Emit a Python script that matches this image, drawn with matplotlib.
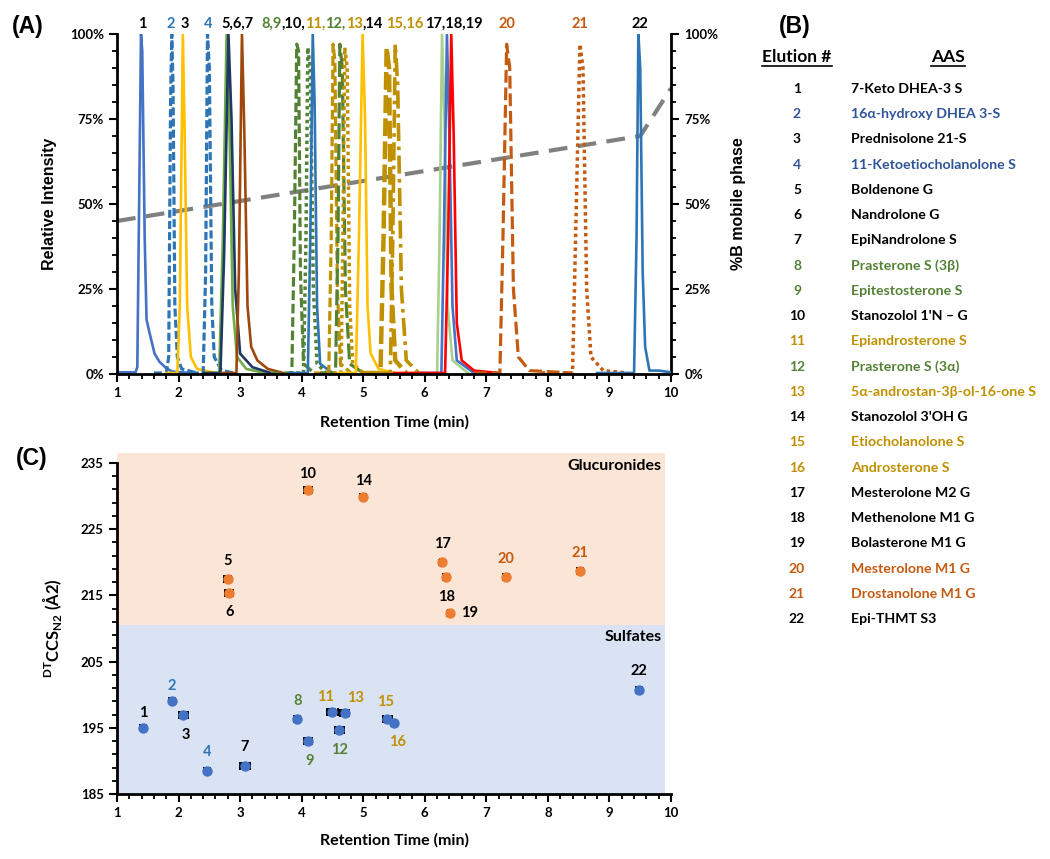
import numpy as np
import matplotlib.pyplot as plt
from matplotlib.ticker import MultipleLocator, FuncFormatter
from matplotlib.offsetbox import TextArea, HPacker, AnnotationBbox
from matplotlib.patches import Rectangle
from matplotlib.lines import Line2D

plt.rcParams['font.family'] = ['Lato', 'DejaVu Sans']
plt.rcParams['font.weight'] = 'bold'
plt.rcParams['mathtext.fontset'] = 'custom'
plt.rcParams['mathtext.rm'] = 'Lato:bold'
plt.rcParams['mathtext.bf'] = 'Lato:bold'

W, H = 1050, 859

# colours
K = '#000000'
BLUE = '#2E75B6'
RBLUE = '#4472C4'
NAVY = '#1F3864'
GOLD = '#BF9000'
YEL = '#FFC000'
GREEN = '#548235'
LGREEN = '#70AD47'
BROWN = '#9E480E'
ORANGE = '#C55A11'
RED = '#FF0000'
TBLUE = '#2F5597'

# ---- (A) chromatograms: time (min) / relative intensity (%) ----
peak_t = [
    [1.0, 1.30, 1.33, 1.39, 1.41, 1.45, 1.48, 1.53, 1.61, 1.69, 1.80, 1.90, 2.2],
    [1.6, 1.80, 1.84, 1.87, 1.89, 1.91, 1.94, 1.98, 2.05, 2.3],
    [1.8, 1.98, 2.02, 2.07, 2.10, 2.14, 2.20, 2.3, 2.6],
    [2.2, 2.40, 2.44, 2.47, 2.50, 2.54, 2.58, 2.7, 2.9],
    [2.4, 2.66, 2.72, 2.78, 2.83, 2.88, 2.95, 3.1, 3.4],
    [2.4, 2.68, 2.74, 2.81, 2.86, 2.92, 3.0, 3.2, 3.5],
    [2.7, 2.94, 2.98, 3.03, 3.07, 3.12, 3.18, 3.28, 3.45, 3.7],
    [3.5, 3.84, 3.88, 3.92, 3.95, 3.98, 4.03, 4.2],
    [3.8, 4.03, 4.07, 4.10, 4.14, 4.19, 4.25, 4.4],
    [3.8, 4.10, 4.14, 4.18, 4.21, 4.25, 4.30, 4.5],
    [4.2, 4.44, 4.48, 4.51, 4.54, 4.58, 4.63, 4.8],
    [4.3, 4.55, 4.59, 4.62, 4.66, 4.71, 4.78, 5.0],
    [4.4, 4.64, 4.67, 4.70, 4.74, 4.78, 4.83, 5.0],
    [4.6, 4.88, 4.93, 4.99, 5.03, 5.07, 5.12, 5.25, 5.5],
    [5.0, 5.28, 5.33, 5.38, 5.42, 5.46, 5.52, 5.7],
    [5.2, 5.44, 5.48, 5.52, 5.56, 5.62, 5.70, 5.9],
    [5.8, 6.20, 6.24, 6.28, 6.32, 6.37, 6.45, 6.7],
    [5.9, 6.27, 6.31, 6.36, 6.40, 6.45, 6.52, 6.8],
    [5.5, 6.33, 6.38, 6.43, 6.47, 6.52, 6.60, 6.8, 7.2],
    [6.8, 7.22, 7.27, 7.33, 7.38, 7.44, 7.52, 7.7, 8.4],
    [7.9, 8.40, 8.45, 8.52, 8.57, 8.63, 8.70, 8.9, 9.3],
    [8.8, 9.40, 9.44, 9.47, 9.50, 9.54, 9.58, 9.65, 9.8, 10.0],
]
peak_i = [
    [0.5, 0.5, 2, 100, 95, 40, 16, 12, 6, 3.6, 1.7, 0.7, 0.3],
    [0.3, 0.3, 5, 80, 100, 85, 20, 5, 1.5, 0.3],
    [0.3, 0.3, 20, 100, 70, 20, 5, 1.5, 0.3],
    [0.3, 0.3, 30, 100, 90, 20, 5, 1, 0.3],
    [0.3, 0.3, 40, 100, 70, 20, 5, 1.5, 0.3],
    [0.3, 0.3, 35, 100, 75, 25, 6, 2, 0.3],
    [0.3, 0.3, 30, 100, 70, 20, 8, 4, 1.5, 0.3],
    [0.3, 0.3, 40, 97, 95, 30, 3, 0.3],
    [0.3, 0.3, 40, 96, 90, 25, 3, 0.3],
    [0.3, 0.3, 40, 100, 80, 20, 3, 0.3],
    [0.3, 0.3, 40, 97, 92, 25, 3, 0.3],
    [0.3, 0.3, 40, 97, 90, 25, 3, 0.3],
    [0.3, 0.3, 40, 96, 90, 20, 3, 0.3],
    [0.3, 0.3, 40, 100, 75, 20, 6, 1.5, 0.3],
    [0.3, 0.3, 40, 96, 90, 25, 4, 0.3],
    [0.3, 0.3, 40, 97, 85, 25, 4, 0.3],
    [0.3, 0.3, 40, 100, 75, 20, 4, 0.3],
    [0.3, 0.3, 40, 100, 70, 20, 4, 0.3],
    [0.3, 0.3, 40, 100, 70, 15, 4, 1, 0.3],
    [0.3, 0.3, 40, 97, 90, 25, 5, 1, 0.3],
    [0.3, 0.3, 40, 97, 90, 25, 5, 1, 0.3],
    [0.3, 0.3, 40, 100, 90, 30, 8, 1, 1, 0.5],
]
peak_color = [RBLUE, BLUE, YEL, BLUE, LGREEN, NAVY, BROWN, GREEN, GREEN, BLUE, GOLD,
              GREEN, GOLD, YEL, GOLD, GOLD, '#A9D18E', RBLUE, RED, ORANGE, ORANGE, BLUE]
peak_ls = ['-', (0, (2.5, 1)), '-', (0, (2.5, 1)), '-', '-', '-', (0, (3, 1.2)), (0, (1, 1)), '-',
           (0, (3, 1.2)), (0, (5, 1.5)), (0, (1, 1)), '-', (0, (4, 1.2)), (0, (5, 1.5, 1, 1.5)),
           '-', '-', '-', (0, (4, 1.5)), (0, (1, 1)), '-']
peak_lw = [1.9, 2.3, 1.9, 2.3, 1.9, 1.9, 1.9, 2.3, 2.5, 1.9, 2.3, 2.3, 2.5, 1.9, 3.2, 2.6,
           1.9, 1.9, 1.9, 2.3, 2.5, 1.9]

gradient_t = [1.0, 9.5, 10.0]
gradient_b = [45, 70, 84]

# peak labels above the chromatogram: (text pieces, colours, centre time)
top_labels = [
    (['1'], [K], 1.41),
    (['2'], [BLUE], 1.88),
    (['3'], [K], 2.10),
    (['4'], [BLUE], 2.48),
    (['5,6,7'], [K], 2.95),
    (['8,9', ',10,', '11,', '12,', '13', ',14'], [GREEN, K, GOLD, GREEN, GOLD, K], 4.33),
    (['15,16'], [GOLD], 5.68),
    (['17,18,19'], [K], 6.47),
    (['20'], [ORANGE], 7.33),
    (['21'], [ORANGE], 8.52),
    (['22'], [K], 9.49),
]

# ---- (B) table ----
aas_names = ['7-Keto DHEA-3 S', '16α-hydroxy DHEA 3-S', 'Prednisolone 21-S',
             '11-Ketoetiocholanolone S', 'Boldenone G', 'Nandrolone G', 'EpiNandrolone S',
             'Prasterone S (3β)', 'Epitestosterone S', "Stanozolol 1'N – G",
             'Epiandrosterone S', 'Prasterone S (3α)', '5α-androstan-3β-ol-16-one S',
             "Stanozolol 3'OH G", 'Etiocholanolone S', 'Androsterone S', 'Mesterolone M2 G',
             'Methenolone M1 G', 'Bolasterone M1 G', 'Mesterolone M1 G', 'Drostanolone M1 G',
             'Epi-THMT S3']
aas_colors = [K, TBLUE, K, TBLUE, K, K, K, GREEN, GREEN, K, GOLD, GREEN, GOLD, K, GOLD, GOLD,
              K, K, K, ORANGE, ORANGE, K]

# ---- (C) CCS vs retention time ----
ccs_rt = [1.43, 1.89, 2.08, 2.47, 2.80, 2.82, 3.08, 3.93, 4.10, 4.10, 4.50, 4.61, 4.70, 5.00,
          5.39, 5.50, 6.28, 6.35, 6.41, 7.32, 8.52, 9.48]
ccs_val = [195.0, 199.1, 197.0, 188.5, 217.5, 215.4, 189.3, 196.4, 193.0, 230.9, 197.4, 194.7,
           197.3, 229.9, 196.3, 195.7, 220.0, 217.8, 212.3, 217.8, 218.7, 200.7]
rt_err = [0.03, 0.03, 0.07, 0.03, 0.06, 0.06, 0.08, 0.05, 0.07, 0.06, 0.09, 0.07, 0.07, 0.03,
          0.07, 0.03, 0.03, 0.03, 0.03, 0.03, 0.03, 0.03]
ccs_err = [0.4] * 22
ccs_class = ['S', 'S', 'S', 'S', 'G', 'G', 'S', 'S', 'S', 'G', 'S', 'S', 'S', 'G', 'S', 'S',
             'G', 'G', 'G', 'G', 'G', 'S']
ccs_label_color = [K, BLUE, K, BLUE, K, K, K, GREEN, GREEN, K, GOLD, GREEN, GOLD, K, GOLD, GOLD,
                   K, K, K, ORANGE, ORANGE, K]
# label offsets in pixels
ccs_label_off = [(0, 15), (0, 15), (2, -20), (0, 19), (0, 18), (1, -19), (0, 19), (0, 18),
                 (2, -20), (0, 16), (-7, 15), (0, -20), (11, 15), (0, 16), (-2, 17), (4, -19),
                 (0, 18), (0, -20), (20, 0), (0, 18), (0, 18), (0, 19)]

fig = plt.figure(figsize=(W / 100, H / 100), dpi=100)


def px(x, y):
    return x / W, 1 - y / H


def style_axis(ax):
    ax.tick_params(which='major', direction='out', length=6, width=1.5, labelsize=9.5)
    ax.tick_params(which='minor', direction='out', length=3.5, width=1.3)
    for s in ax.spines.values():
        s.set_linewidth(2)


# ================= (A) =================
axA = fig.add_axes([117 / W, 1 - 374 / H, 554 / W, 340 / H])
axB = axA.twinx()
axB.set_zorder(0)
axA.set_zorder(1)
axA.patch.set_visible(False)
axB.plot(gradient_t, gradient_b, color='#808080', lw=3, ls=(0, (4.5, 2.5)))
axB.set_ylim(0, 100)

for t, i, c, ls, lw in zip(peak_t, peak_i, peak_color, peak_ls, peak_lw):
    axA.plot(t, i, color=c, ls=ls, lw=lw)

axA.set_xlim(1, 10)
axA.set_ylim(0, 100)
pct = FuncFormatter(lambda v, p: '%d%%' % v)
for ax in (axA, axB):
    ax.yaxis.set_major_locator(MultipleLocator(25))
    ax.yaxis.set_minor_locator(MultipleLocator(5))
    ax.yaxis.set_major_formatter(pct)
    ax.spines['top'].set_visible(False)
    style_axis(ax)
axA.spines['right'].set_visible(False)
axB.spines['left'].set_visible(False)
axB.spines['bottom'].set_visible(False)
axA.xaxis.set_major_locator(MultipleLocator(1))
axA.xaxis.set_minor_locator(MultipleLocator(0.2))

for pieces, cols, xc in top_labels:
    boxes = [TextArea(p, textprops=dict(color=c, fontsize=10.5, fontweight='bold'))
             for p, c in zip(pieces, cols)]
    pack = HPacker(children=boxes, pad=0, sep=0, align='baseline')
    ab = AnnotationBbox(pack, (xc, 101), xycoords='data', box_alignment=(0.5, 0),
                        frameon=False, annotation_clip=False, pad=0)
    axA.add_artist(ab)

fig.text(*px(394, 422), 'Retention Time (min)', ha='center', va='center', fontsize=11.5)
fig.text(*px(50, 204), 'Relative Intensity', ha='center', va='center', rotation=90,
         fontsize=11.5, family='Liberation Sans')
fig.text(*px(738, 204), '%B mobile phase', ha='center', va='center', rotation=90,
         fontsize=11.5, family='Liberation Sans')
fig.text(*px(28, 27), '(A)', ha='center', va='center', fontsize=16.5, family='Liberation Sans')

# ================= (B) =================
fig.text(*px(795, 27), '(B)', ha='center', va='center', fontsize=16.5, family='Liberation Sans')
h1 = fig.text(*px(797, 57), 'Elution #', ha='center', va='center', fontsize=12.5)
h2 = fig.text(*px(948, 57), 'AAS', ha='center', va='center', fontsize=12.5)
for k, (name, c) in enumerate(zip(aas_names, aas_colors)):
    y = 89 + k * 25.24
    fig.text(*px(797, y), str(k + 1), ha='center', va='center', fontsize=10, color=c)
    fig.text(*px(851, y), name, ha='left', va='center', fontsize=10.2, color=c)

# ================= (C) =================
axC = fig.add_axes([117 / W, 1 - 794 / H, 554 / W, 331 / H])
axC.add_patch(Rectangle((1, 185), 8.9, 25.5, color='#DAE3F3', zorder=0, lw=0))
axC.add_patch(Rectangle((1, 210.5), 8.9, 26.0, color='#FBE5D6', zorder=0, lw=0, clip_on=False))
for k in range(len(ccs_rt)):
    mc = '#ED7D31' if ccs_class[k] == 'G' else RBLUE
    axC.errorbar(ccs_rt[k], ccs_val[k], xerr=rt_err[k], yerr=ccs_err[k], fmt='o', ms=6.5,
                 mfc=mc, mec=mc, ecolor='black', elinewidth=1.4, capsize=3, capthick=1.4,
                 zorder=3)
    axC.annotate(str(k + 1), (ccs_rt[k], ccs_val[k]), xytext=ccs_label_off[k],
                 textcoords='offset pixels', ha='center', va='center', fontsize=10.5,
                 color=ccs_label_color[k])
axC.text(9.85, 234.6, 'Glucuronides', ha='right', va='center', fontsize=11.5)
axC.text(9.85, 208.7, 'Sulfates', ha='right', va='center', fontsize=11.5)
axC.set_xlim(1, 10)
axC.set_ylim(185, 235)
axC.xaxis.set_major_locator(MultipleLocator(1))
axC.xaxis.set_minor_locator(MultipleLocator(0.2))
axC.set_yticks(np.arange(185, 236, 10))
axC.set_yticks(np.arange(185, 236, 2), minor=True)
axC.spines['top'].set_visible(False)
axC.spines['right'].set_visible(False)
style_axis(axC)

fig.text(*px(394, 840), 'Retention Time (min)', ha='center', va='center', fontsize=11.5)
fig.text(*px(52, 628), r'$^{\mathrm{DT}}\mathrm{CCS}_{\mathrm{N2}}$ (Å2)', ha='center',
         va='center', rotation=90, fontsize=12)
fig.text(*px(32, 458), '(C)', ha='center', va='center', fontsize=16.5, family='Liberation Sans')

# underline table headers
fig.canvas.draw()
r = fig.canvas.get_renderer()
for h in (h1, h2):
    bb = h.get_window_extent(r)
    yl = bb.y0 - 1
    fig.add_artist(Line2D([bb.x0 / W, bb.x1 / W], [yl / H, yl / H], color='black', lw=1.2,
                          transform=fig.transFigure))

fig.savefig('out.png', dpi=100)
